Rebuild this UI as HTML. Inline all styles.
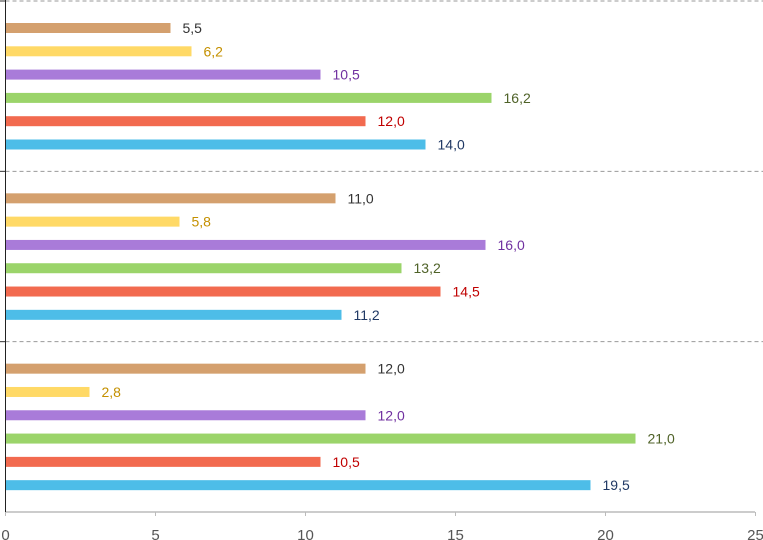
<!DOCTYPE html>
<html><head><meta charset="utf-8"><style>
html,body{margin:0;padding:0;background:#fff;}
svg{display:block;font-family:"Liberation Sans",Calibri,sans-serif;}
</style></head><body>
<svg id="chart" width="763" height="540" viewBox="0 0 763 540"></svg>
<script>
const groups = ["group-1","group-2","group-3"];
const seriesNames = ["tan","yellow","purple","green","red","blue"];
const tanValues = [5.5, 11.0, 12.0];
const yellowValues = [6.2, 5.8, 2.8];
const purpleValues = [10.5, 16.0, 12.0];
const greenValues = [16.2, 13.2, 21.0];
const redValues = [12.0, 14.5, 10.5];
const blueValues = [14.0, 11.2, 19.5];
const xTicks = [0,5,10,15,20,25];

const allValues = [tanValues,yellowValues,purpleValues,greenValues,redValues,blueValues];
const fills = ["#D4A06E","#FFD966","#A97BD9","#9BD46A","#F26A4F","#4DBDE8"];
const textCols = ["#333333","#C49000","#7030A0","#4F6228","#C00000","#1F3864"];
const NS="http://www.w3.org/2000/svg";
const svg=document.getElementById('chart');
const x0=5.5, xMax=25, pw=750, plotTop=1, plotBottom=512;
const gh=(plotBottom-plotTop)/groups.length;
function xs(v){return x0+v/xMax*pw;}
function mk(t,a){const e=document.createElementNS(NS,t);for(const k in a)e.setAttribute(k,a[k]);svg.appendChild(e);return e;}

for(let g=0;g<groups.length;g++){
  const y=plotTop+g*gh;
  const l=mk('line',{x1:x0,x2:763,y1:y,y2:y,stroke:'#999',"stroke-dasharray":'4,3',"stroke-width":1});
  
  
  const t=mk('line',{x1:0,x2:x0,y1:y,y2:y,stroke:'#333'});
  
  
}
const bx=mk('line',{x1:x0,x2:755,y1:plotBottom,y2:plotBottom,stroke:'#bbb',"stroke-width":1.5});


xTicks.forEach(v=>{
  const tk=mk('line',{x1:xs(v),x2:xs(v),y1:plotBottom,y2:plotBottom+4,stroke:'#bbb'});
  
  
  const tx=mk('text',{x:xs(v),y:540,"text-anchor":'middle',"font-size":15,fill:'#555'});
  tx.textContent=v;
  
  
});
groups.forEach((gn,g)=>{
  const gy=plotTop+g*gh;
  allValues.forEach((vals,s)=>{
    const cy=gy+27+s*23.3;
    const v=vals[g];
    const r=mk('rect',{x:x0+0.5,y:cy-5,width:xs(v)-x0-0.5,height:10,fill:fills[s]});
    
    
    const t=mk('text',{x:xs(v)+12,y:cy+5,"font-size":14,fill:textCols[s]});
    t.textContent=v.toFixed(1).replace('.',',');
    
    
  });
});
const ya=mk('line',{x1:x0,x2:x0,y1:0,y2:plotBottom,stroke:'#222',"stroke-width":1});


</script>
</body></html>
